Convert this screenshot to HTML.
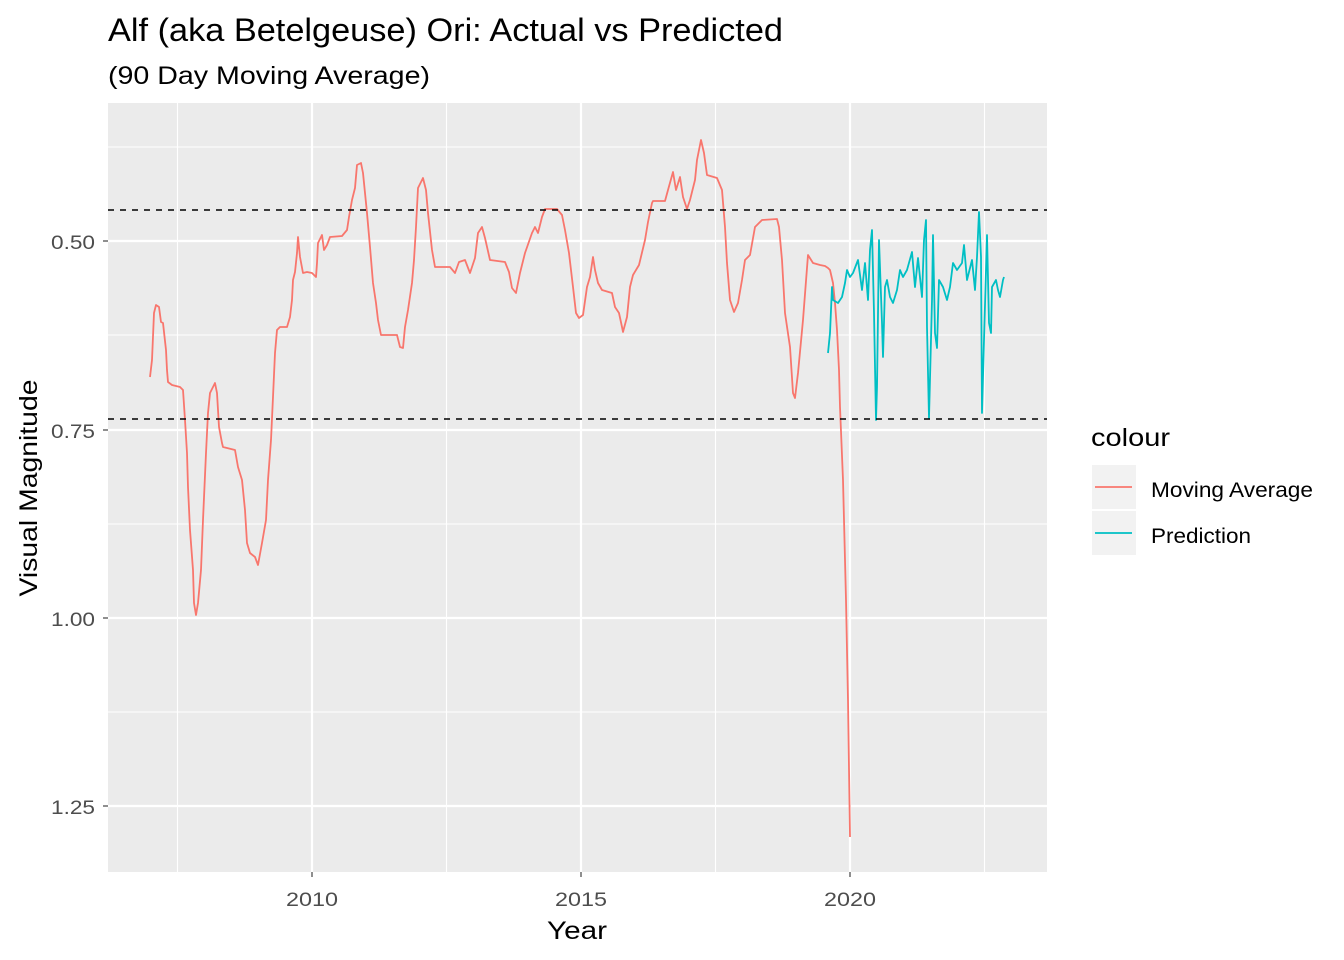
<!DOCTYPE html>
<html><head><meta charset="utf-8"><style>body{margin:0;background:#fff}svg{display:block;font-family:"Liberation Sans",Arial,sans-serif}</style></head><body>
<svg width="1344" height="960" viewBox="0 0 1344 960" xmlns="http://www.w3.org/2000/svg">
<rect width="1344" height="960" fill="#fff"/>
<text x="108" y="41" font-size="32" fill="#000" textLength="675" lengthAdjust="spacingAndGlyphs">Alf (aka Betelgeuse) Ori: Actual vs Predicted</text>
<text x="108" y="84" font-size="25" fill="#000" textLength="322" lengthAdjust="spacingAndGlyphs">(90 Day Moving Average)</text>
<rect x="108" y="103" width="939" height="769" fill="#ebebeb"/>
<g stroke="#fff" stroke-width="1.1">
<line x1="108" x2="1047" y1="147" y2="147"/><line x1="108" x2="1047" y1="335" y2="335"/><line x1="108" x2="1047" y1="524" y2="524"/><line x1="108" x2="1047" y1="712" y2="712"/>
<line x1="177.5" x2="177.5" y1="103" y2="872"/><line x1="446.5" x2="446.5" y1="103" y2="872"/><line x1="715.5" x2="715.5" y1="103" y2="872"/><line x1="984.5" x2="984.5" y1="103" y2="872"/>
</g>
<g stroke="#fff" stroke-width="2.2">
<line x1="108" x2="1047" y1="241" y2="241"/><line x1="108" x2="1047" y1="430" y2="430"/><line x1="108" x2="1047" y1="618" y2="618"/><line x1="108" x2="1047" y1="806" y2="806"/>
<line x1="312" x2="312" y1="103" y2="872"/><line x1="581" x2="581" y1="103" y2="872"/><line x1="850" x2="850" y1="103" y2="872"/>
</g>
<polyline fill="none" stroke="#f8766d" stroke-width="1.8" stroke-linejoin="round" points="150,377 152,360 154,313 156,305 159,307 161,322 163,323 166,350 167,370 168,382 172,385 180,387 183,390 185,420 187,453 188,487 190,530 193,570 194,603 196,615 198,603 201,570 203,520 206,453 208,413 210,393 213,387 215,383 217,393 219,427 222,443 223,447 235,450 238,467 242,480 245,510 247,543 250,553 255,557 258,565 262,543 266,520 268,480 271,440 273,397 275,353 277,330 280,327 287,327 290,317 292,300 293,280 295,272 297,253 298,237 300,257 303,273 307,272 312,273 316,277 317,263 318,243 322,235 324,250 327,245 330,237 342,236 347,230 349,217 352,200 355,188 357,165 361,163 363,173 367,213 370,247 373,283 376,303 378,320 381,335 397,335 400,347 403,348 405,327 408,310 412,283 414,260 416,227 418,188 423,178 426,190 428,213 432,250 435,267 450,267 455,273 459,262 465,260 470,273 475,258 478,233 482,227 485,238 490,260 505,262 509,272 512,288 516,293 520,273 525,253 532,233 535,227 538,233 542,217 545,209 557,209 562,215 565,230 569,253 573,287 576,313 579,318 583,315 587,287 590,277 593,257 595,270 598,283 602,290 612,293 615,307 619,313 622,327 623,332 627,317 630,287 633,275 639,265 645,240 648,222 652,203 653,201 665,201 668,190 673,172 676,190 680,177 683,197 687,209 690,200 695,180 697,160 701,140 704,153 707,175 717,178 722,190 725,227 727,263 730,300 734,312 738,303 742,280 745,260 750,255 755,227 762,220 777,219 779,227 782,260 785,313 790,347 793,393 795,398 798,373 803,320 808,255 813,263 820,265 825,266 828,268 830,270 833,283 835,303 837,330 839,370 840,407 843,480 846,600 848,700 850,837"/>
<polyline fill="none" stroke="#00bfc4" stroke-width="1.8" stroke-linejoin="round" points="828,353 830,333 832,287 833,300 838,303 842,297 845,283 847,270 850,277 853,273 858,260 862,290 865,263 868,300 870,250 872,230 874,313 876,420 877,387 879,240 882,323 883,357 885,287 887,280 890,297 893,303 897,290 900,270 903,277 907,270 912,252 915,287 918,258 922,297 924,240 926,220 927,327 929,418 932,300 933,235 935,333 937,348 939,280 943,287 947,300 950,287 953,263 957,270 962,263 964,245 967,280 972,260 975,290 977,257 979,212 981,257 982,413 984,340 987,235 989,323 991,333 992,287 996,280 998,290 1000,297 1003,280 1004,277"/>
<g stroke="#000" stroke-width="1.6" stroke-dasharray="6,6">
<line x1="108" x2="1047" y1="210" y2="210"/><line x1="108" x2="1047" y1="419" y2="419"/>
</g>
<g stroke="#333" stroke-width="1.1">
<line x1="103" x2="108" y1="241" y2="241"/><line x1="103" x2="108" y1="430" y2="430"/><line x1="103" x2="108" y1="618" y2="618"/><line x1="103" x2="108" y1="806" y2="806"/>
<line x1="312" x2="312" y1="872" y2="877"/><line x1="581" x2="581" y1="872" y2="877"/><line x1="850" x2="850" y1="872" y2="877"/>
</g>
<g font-size="19.5" fill="#4d4d4d" text-anchor="end">
<text x="95" y="249" textLength="44" lengthAdjust="spacingAndGlyphs">0.50</text><text x="95" y="438" textLength="44" lengthAdjust="spacingAndGlyphs">0.75</text><text x="95" y="626" textLength="44" lengthAdjust="spacingAndGlyphs">1.00</text><text x="95" y="814" textLength="44" lengthAdjust="spacingAndGlyphs">1.25</text>
</g>
<g font-size="19.5" fill="#4d4d4d">
<text x="286" y="906" textLength="52" lengthAdjust="spacingAndGlyphs">2010</text><text x="555" y="906" textLength="52" lengthAdjust="spacingAndGlyphs">2015</text><text x="824" y="906" textLength="52" lengthAdjust="spacingAndGlyphs">2020</text>
</g>
<text x="547" y="939" font-size="25" fill="#000" textLength="60" lengthAdjust="spacingAndGlyphs">Year</text>
<text transform="translate(37,488) rotate(-90)" font-size="25" text-anchor="middle" fill="#000" textLength="217" lengthAdjust="spacingAndGlyphs">Visual Magnitude</text>
<text x="1091" y="446" font-size="25" fill="#000" textLength="79" lengthAdjust="spacingAndGlyphs">colour</text>
<rect x="1092" y="465" width="44" height="44" fill="#f2f2f2"/>
<rect x="1092" y="511" width="44" height="44" fill="#f2f2f2"/>
<line x1="1095" x2="1132" y1="487" y2="487" stroke="#f8766d" stroke-width="1.8"/>
<line x1="1095" x2="1132" y1="533" y2="533" stroke="#00bfc4" stroke-width="1.8"/>
<text x="1151" y="497" font-size="21.5" fill="#000" textLength="162" lengthAdjust="spacingAndGlyphs">Moving Average</text>
<text x="1151" y="543" font-size="21.5" fill="#000" textLength="100" lengthAdjust="spacingAndGlyphs">Prediction</text>
</svg>
</body></html>
